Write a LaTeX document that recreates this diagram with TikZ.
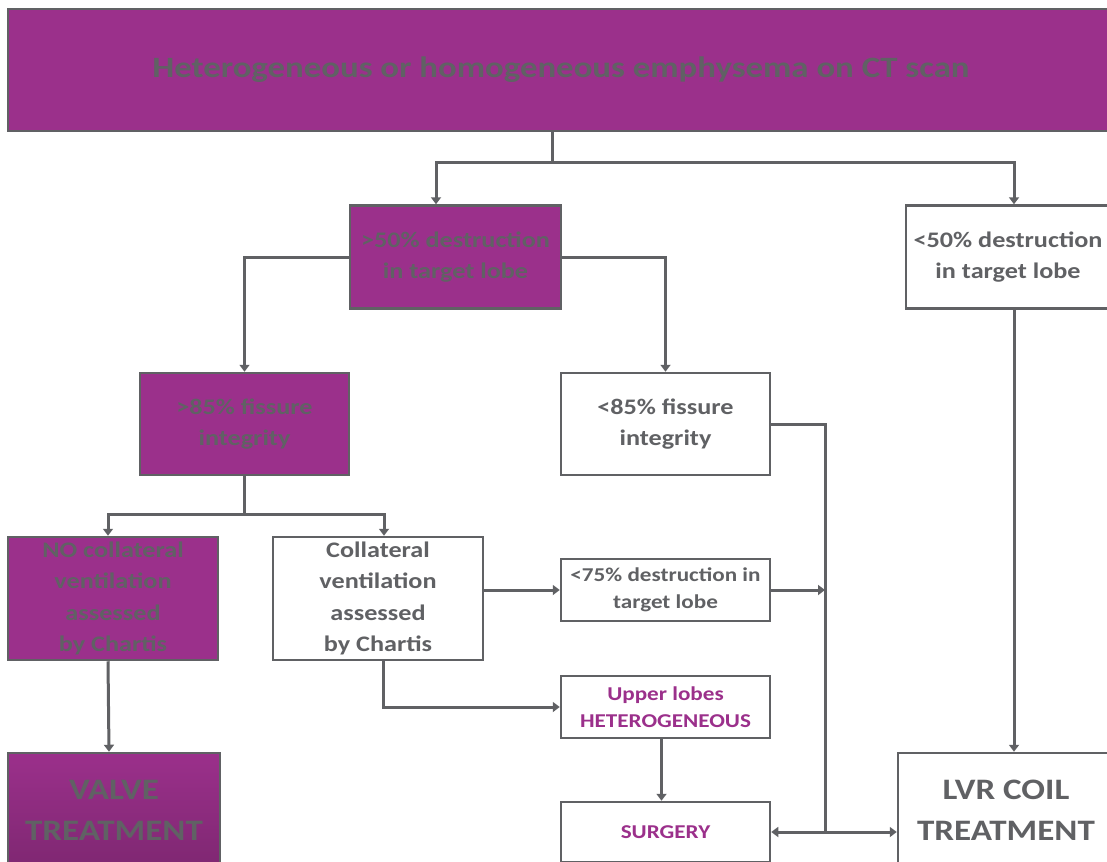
\documentclass[tikz,border=0pt]{standalone}
\usepackage{fontspec}
\setmainfont[FakeStretch=1.18]{Carlito}
\usetikzlibrary{arrows.meta}
\definecolor{FlowPurple}{RGB}{155,48,139}
\definecolor{FlowGray}{RGB}{96,97,100}

\begin{document}
\begin{tikzpicture}[x=1pt,y=-1pt,line width=3pt,draw=FlowGray,
  box/.style={rectangle,draw=FlowGray,line width=2.5pt,align=center,inner sep=0pt,text=FlowGray},
  pbox/.style={box,fill=FlowPurple},
  wbox/.style={box,fill=white},
  txtL/.style={font=\fontsize{29.7}{41}\selectfont\bfseries},
  txtM/.style={font=\fontsize{22.2}{31.5}\selectfont\bfseries},
  txtS/.style={font=\fontsize{19.6}{27}\selectfont\bfseries},
  arr/.style={-{Triangle[width=10pt,length=7pt]}}]
\useasboundingbox (0,0) rectangle (1107,861);
\clip (0,0) rectangle (1107,861);

% boxes
\node[pbox,minimum width=1106,minimum height=122,font=\fontsize{29.5}{37}\selectfont\bfseries] (ct) at (561,70)
   {Heterogeneous or homogeneous emphysema on CT scan};
\node[pbox,txtM,minimum width=211,minimum height=103] (gt50) at (455.5,257) {>50\% destruction\\in target lobe};
\node[wbox,txtM,minimum width=204,minimum height=103] (lt50) at (1008,257) {<50\% destruction\\in target lobe};
\node[pbox,txtM,minimum width=209,minimum height=102] (gt85) at (244.5,424) {>85\% fissure\\integrity};
\node[wbox,txtM,minimum width=209,minimum height=102] (lt85) at (665.5,424) {<85\% fissure\\integrity};
\node[pbox,txtM,minimum width=210,minimum height=123] (nocv) at (113,598.5) {NO collateral\\ventilation\\assessed\\by Chartis};
\node[wbox,txtM,minimum width=210,minimum height=123] (cv) at (378,598.5) {Collateral\\ventilation\\assessed\\by Chartis};
\node[wbox,txtS,minimum width=209,minimum height=62] (lt75) at (665.5,590) {<75\% destruction in\\target lobe};
\node[wbox,txtS,minimum width=209,minimum height=62,text=FlowPurple] (upper) at (665.5,707) {Upper lobes\\HETEROGENEOUS};
\node[wbox,txtS,minimum width=209,minimum height=60,text=FlowPurple] (surgery) at (665.5,832) {SURGERY};
\node[box,txtL,minimum width=212,minimum height=114,top color=FlowPurple,bottom color=FlowPurple!82!black] (valve) at (114,810) {VALVE\\TREATMENT};
\node[wbox,txtL,minimum width=216,minimum height=114] (lvr) at (1006,810) {LVR COIL\\TREATMENT};

% connectors
\coordinate (split) at (552,163);
\draw (ct.south -| split) -- (split);
\draw[arr] (split) -| ([xshift=-19.5pt]gt50.north);
\draw[arr] (split) -| ([xshift=6pt]lt50.north);
\draw[arr] (gt50.west) -| (gt85.north);
\draw[arr] (gt50.east) -| (lt85.north);

\coordinate (fork) at (244.5,514);
\draw (gt85.south) -- (fork);
\draw[arr] (fork) -| ([xshift=-5pt]nocv.north);
\draw[arr] (fork) -| ([xshift=6pt]cv.north);
\draw[arr] ([xshift=-5pt]nocv.south) -- ([xshift=-5pt]valve.north);

\draw[arr] (cv.east |- lt75) -- (lt75.west);
\draw[arr] ([xshift=5pt]cv.south) |- (upper.west);
\draw[arr] ([xshift=-4pt]upper.south) -- ([xshift=-4pt]surgery.north);

\coordinate (merge) at (825,832);
\draw (lt85.east) -| (merge);
\draw[arr] (lt75.east) -- (lt75.east -| merge);
\draw[arr] (merge) -- (surgery.east);
\draw[arr] (merge) -- (merge -| lvr.west);
\draw[arr] ([xshift=6pt]lt50.south) -- ([xshift=8pt]lvr.north);
\end{tikzpicture}
\end{document}
